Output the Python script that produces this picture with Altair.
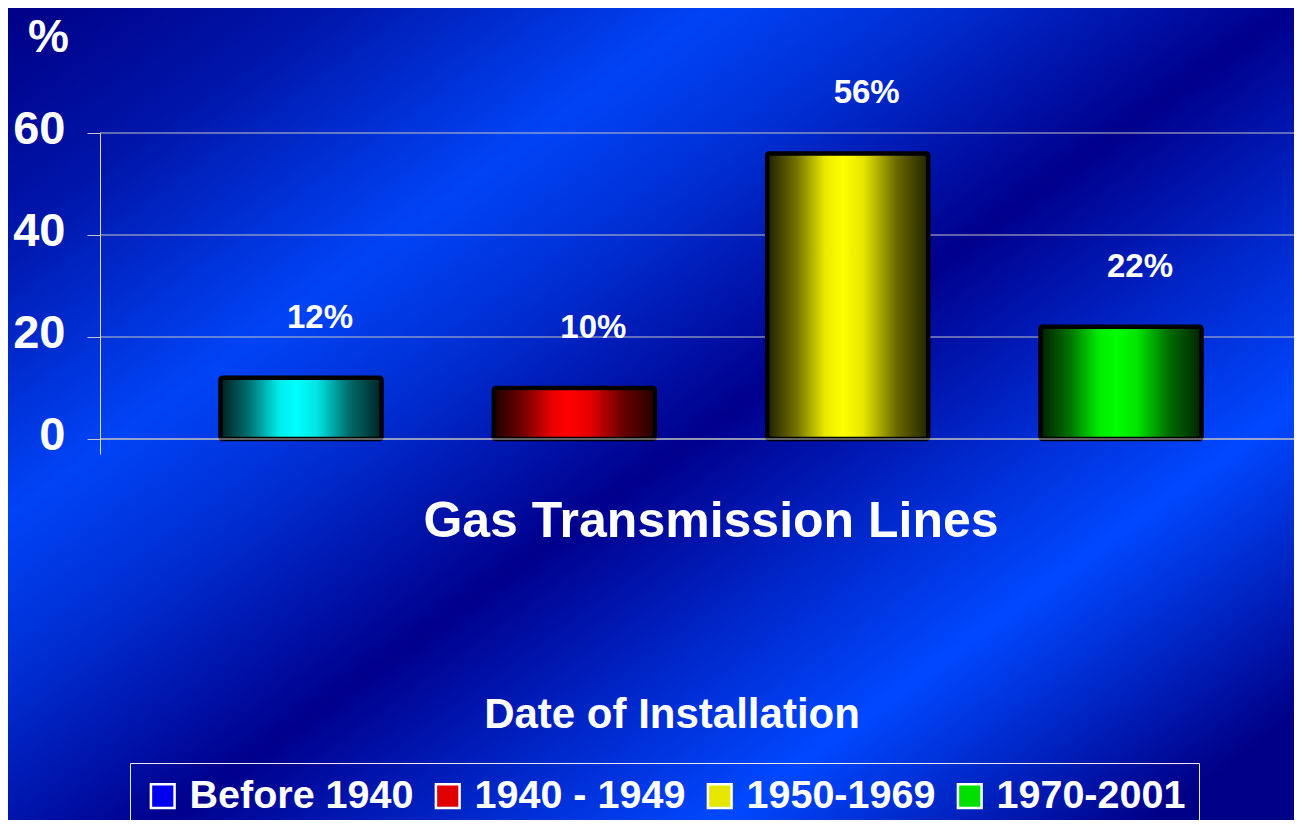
import altair as alt
import pandas as pd

# ---- data ----
periods = ["Before 1940", "1940 - 1949", "1950-1969", "1970-2001"]
shares = [12, 10, 56, 22]
share_labels = ["12%", "10%", "56%", "22%"]
bar_colors = ["#00ffff", "#ff0000", "#ffff00", "#00ff00"]
legend_colors = ["#0000ee", "#e00000", "#e6e600", "#00e000"]
y_ticks = [0, 20, 40, 60]
category_label = ["Gas Transmission Lines"]
x_title = "Date of Installation"
y_title = "%"

df = pd.DataFrame({"period": periods, "share": shares, "label": share_labels})
cat_df = pd.DataFrame({"name": category_label})
tick_df = pd.DataFrame({"tick": y_ticks})

SANS = "Liberation Sans, Arial, sans-serif"

W, H = 1194, 321
PAD_L, PAD_T = 92, 125
TOTAL_W, TOTAL_H = 1286, 812
GRID = "#c4c4c4"


def shade(hex_color, f):
    h = hex_color.lstrip("#")
    r, g, b = (int(h[i:i + 2], 16) for i in (0, 2, 4))
    return "#%02x%02x%02x" % (int(r * f), int(g * f), int(b * f))


def bar_gradient(c):
    stops = [(0.0, 0.12), (0.18, 0.45), (0.36, 0.92), (0.47, 1.0),
             (0.6, 0.9), (0.8, 0.42), (1.0, 0.14)]
    return alt.LinearGradient(
        gradient="linear", x1=0, y1=0, x2=1, y2=0,
        stops=[alt.GradientStop(offset=o, color=shade(c, f)) for o, f in stops],
    )


bg_gradient = alt.LinearGradient(
    gradient="linear", x1=0, y1=0, x2=1, y2=0.875,
    stops=[
        alt.GradientStop(offset=0.0, color="#000086"),
        alt.GradientStop(offset=0.14, color="#0016aa"),
        alt.GradientStop(offset=0.31, color="#0044f6"),
        alt.GradientStop(offset=0.41, color="#002ed2"),
        alt.GradientStop(offset=0.565, color="#00008c"),
        alt.GradientStop(offset=0.69, color="#0026c8"),
        alt.GradientStop(offset=0.81, color="#0048ff"),
        alt.GradientStop(offset=1.0, color="#000086"),
    ],
)

x_enc = alt.X(
    "period:N",
    sort=periods,
    scale=alt.Scale(range=[0, 1222], paddingInner=0.411, paddingOuter=0.4408),
    axis=alt.Axis(
        title=x_title, labels=False, ticks=False, domain=False, grid=False,
        titleX=571.5, titleY=273, titleAlign="center", titleBaseline="alphabetic",
        titleFont=SANS, titleFontSize=42, titleFontWeight="bold", titleColor="white",
        zindex=1,
    ),
)
y_enc = alt.Y(
    "share:Q",
    scale=alt.Scale(domain=[-2.94, 60], nice=False, zero=False),
    axis=alt.Axis(
        values=y_ticks, title=y_title, titleAngle=0, titleX=-52, titleY=-82,
        titleAlign="center", titleBaseline="alphabetic", titleFont=SANS,
        titleFontSize=46, titleFontWeight="bold", titleColor="white",
        labelFont=SANS, labelFontSize=47, labelFontWeight="bold", labelColor="white",
        labelPadding=22, labelOffset=-4, tickSize=13, tickColor=GRID,
        domainColor="#dcdcdc", domainWidth=1, grid=False, zindex=1,
    ),
)

background = alt.Chart(cat_df).mark_rect(fill=bg_gradient).encode(
    x=alt.value(-PAD_L), x2=alt.value(TOTAL_W - PAD_L),
    y=alt.value(-PAD_T), y2=alt.value(TOTAL_H - PAD_T),
)

grid_lines = alt.Chart(tick_df).mark_rule(color=GRID, strokeWidth=1).encode(
    y=alt.Y("tick:Q"), x=alt.value(0), x2=alt.value(W)
)

bar_layers = []
for p, c in zip(periods, bar_colors):
    bar_layers.append(
        alt.Chart(df)
        .transform_filter(alt.datum.period == p)
        .mark_bar(fill=bar_gradient(c), stroke="black", strokeWidth=4.5, cornerRadius=2)
        .encode(x=x_enc, y=alt.Y("share:Q", stack=None), y2=alt.datum(0))
    )

zero_rule = alt.Chart(cat_df).mark_rule(color=GRID, strokeWidth=1).encode(
    y=alt.datum(0), x=alt.value(0), x2=alt.value(W)
)

legend_layer = alt.Chart(df).mark_square(size=0, filled=True, strokeWidth=0).encode(
    x=x_enc,
    y=y_enc,
    color=alt.Color(
        "period:N",
        sort=periods,
        scale=alt.Scale(domain=periods, range=legend_colors),
        legend=alt.Legend(
            title=None, orient="none", direction="horizontal", columns=4,
            legendX=30, legendY=630, padding=13,
            strokeColor="#e8e8e8", fillColor="transparent",
            symbolType="square", symbolSize=560, symbolOpacity=1,
            symbolStrokeColor="white", symbolStrokeWidth=2.5,
            labelFont=SANS, labelFontSize=39.5, labelFontWeight="bold",
            labelColor="white", labelOffset=7, columnPadding=14,
            labelLimit=400,
        ),
    ),
)

value_labels = alt.Chart(df).mark_text(
    font=SANS, fontSize=33, fontWeight="bold", color="white",
    dx=19, dy=-50, baseline="alphabetic", align="center",
).encode(x=x_enc, y=alt.Y("share:Q"), text="label:N")

category_text = alt.Chart(cat_df).mark_text(
    font=SANS, fontSize=50, fontWeight="bold", color="white",
    align="center", baseline="alphabetic",
).encode(x=alt.value(611), y=alt.value(404), text="name:N")

chart = (
    alt.layer(background, grid_lines, legend_layer, *bar_layers, zero_rule,
              value_labels, category_text)
    .properties(
        width=W, height=H,
        padding={"left": PAD_L, "top": PAD_T, "right": TOTAL_W - PAD_L - W,
                 "bottom": TOTAL_H - PAD_T - H},
        autosize=alt.AutoSizeParams(type="none"),
        background="#00008a",
    )
    .configure_view(stroke="transparent")
)

chart.save("out.html", embed_options={"renderer": "svg", "actions": False})
